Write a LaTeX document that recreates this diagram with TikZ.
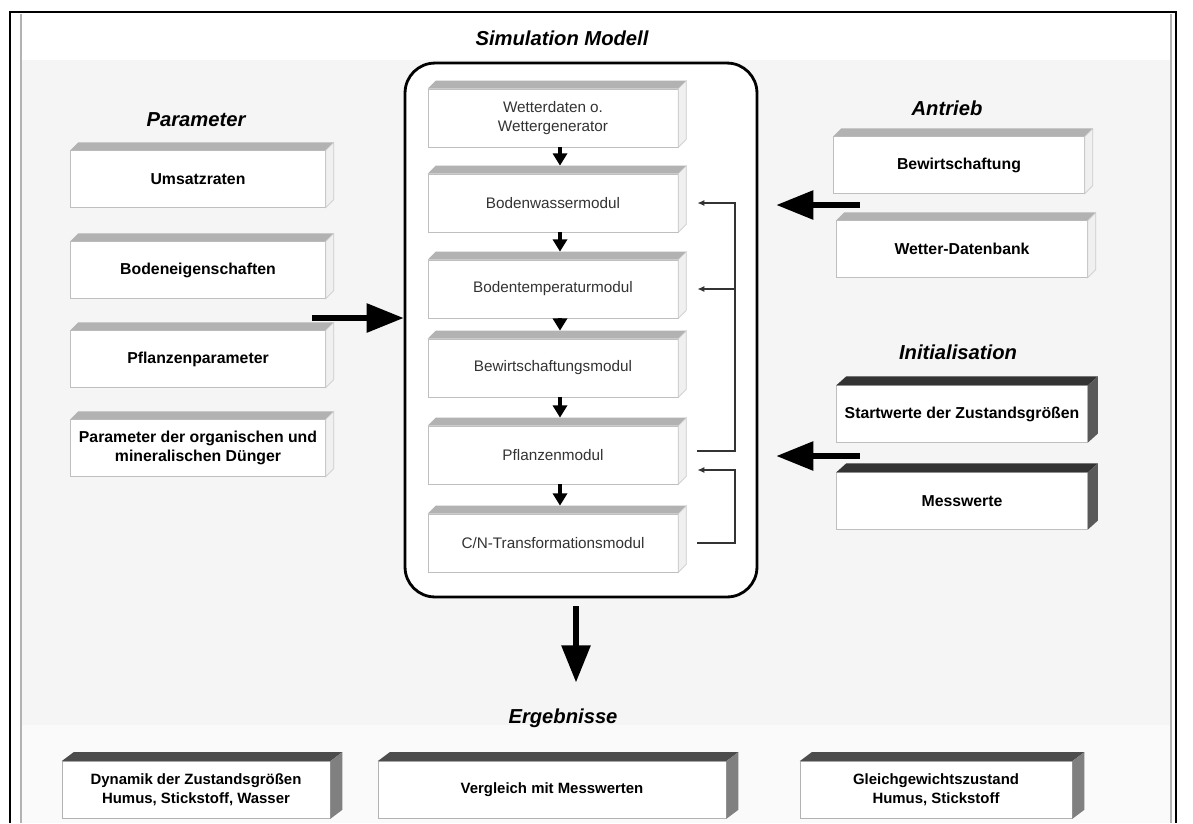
\documentclass[tikz,border=0pt]{standalone}
\usepackage{fontspec}
\setmainfont{Liberation Sans}
\usetikzlibrary{arrows.meta}

\tikzset{
  head/.style={font=\fontsize{11.5}{13}\selectfont\bfseries\itshape},
  para/.style={draw=gray!50, fill=white, minimum width=5.1cm, minimum height=1.13cm,
    align=center, inner sep=1pt, font=\fontsize{9}{11}\selectfont\bfseries},
  antr/.style={para, minimum width=5.02cm},
  modul/.style={draw=gray!50, fill=white, minimum width=5cm, minimum height=1.16cm,
    align=center, text=black!80, font=\fontsize{8.7}{11}\selectfont},
  erg/.style={draw=gray!60, fill=white, minimum height=1.14cm, align=center,
    inner sep=1pt, font=\fontsize{8.5}{11}\selectfont\bfseries},
  big/.style={line width=3pt, -{Triangle[length=21pt,width=16pt]}},
  small/.style={line width=2.2pt, -{Triangle[length=7pt,width=8pt]}},
  back/.style={line width=1.1pt, draw=black!80, -{Latex[length=4pt,width=3.5pt]}}
}

\begin{document}
\begin{tikzpicture}[x=0.02cm,y=-0.02cm]
\useasboundingbox (0,0) rectangle (1193,823);

% Hintergrund und Rahmen
\fill[black!4] (22,60) rectangle (1171,725);
\fill[black!2] (22,725) rectangle (1171,823);
\draw[line width=1.5pt] (10,823) -- (10,12) -- (1176,12) -- (1176,823);
\draw[gray!60, line width=1.5pt] (21,823) -- (21,14);
\draw[gray!60, line width=1.5pt] (1171,823) -- (1171,14);

% Ueberschriften
\node[head] (tsim) at (562,38) {Simulation Modell};
\node[head] (tpar) at (196,120) {Parameter};
\node[head] (tant) at (947,108) {Antrieb};
\node[head] (tini) at (958,352) {Initialisation};
\node[head] (terg) at (563,718) {Ergebnisse};

% Simulationsmodell
\node[draw, fill=white, line width=1.6pt, rounded corners=17pt,
  minimum width=7.04cm, minimum height=10.68cm] (model) at (581,330) {};
\node[modul] (wd) at (553,118) {Wetterdaten o.\\Wettergenerator};
\node[modul] (bw) at (553,203) {Bodenwassermodul};
\node[modul] (bt) at (553,289) {Bodentemperaturmodul};
\node[modul] (bm) at (553,368) {Bewirtschaftungsmodul};
\node[modul] (pm) at (553,455) {Pflanzenmodul};
\node[modul] (cn) at (553,543) {C/N-Transformationsmodul};

% Parameter
\node[para] (um) at (198,179) {Umsatzraten};
\node[para] (be) at (198,270) {Bodeneigenschaften};
\node[para] (pf) at (198,359) {Pflanzenparameter};
\node[para] (du) at (198,448) {Parameter der organischen und\\mineralischen Dünger};

% Antrieb und Initialisation
\node[antr] (bew) at (959,165) {Bewirtschaftung};
\node[antr] (wdb) at (962,249) {Wetter-Datenbank};
\node[antr] (sw) at (962,414) {Startwerte der Zustandsgrößen};
\node[antr] (mw) at (962,501) {Messwerte};

% Ergebnisse
\node[erg, minimum width=5.36cm] (dy) at (196,790) {Dynamik der Zustandsgrößen\\Humus, Stickstoff, Wasser};
\node[erg, minimum width=6.96cm] (ve) at (552,790) {Vergleich mit Messwerten};
\node[erg, minimum width=5.44cm] (gg) at (936,790) {Gleichgewichtszustand\\Humus, Stickstoff};

% 3D-Flaechen
\foreach \n in {um,be,pf,du,wd,bw,bt,bm,pm,cn,bew,wdb} {
  \fill[gray!60] (\n.north west) -- ++(8,-8) -- ([shift={(8,-8)}]\n.north east) -- (\n.north east) -- cycle;
  \filldraw[fill=gray!12, draw=gray!40] (\n.north east) -- ++(8,-8) -- ([shift={(8,-8)}]\n.south east) -- (\n.south east) -- cycle;
}
\foreach \n in {sw,mw} {
  \fill[black!80] (\n.north west) -- ++(10,-9) -- ([shift={(10,-9)}]\n.north east) -- (\n.north east) -- cycle;
  \fill[black!65] (\n.north east) -- ++(10,-9) -- ([shift={(10,-9)}]\n.south east) -- (\n.south east) -- cycle;
}
\foreach \n in {dy,ve,gg} {
  \fill[black!70] (\n.north west) -- ++(12,-9) -- ([shift={(12,-9)}]\n.north east) -- (\n.north east) -- cycle;
  \fill[black!50] (\n.north east) -- ++(12,-9) -- ([shift={(12,-9)}]\n.south east) -- (\n.south east) -- cycle;
}

% Pfeile im Modell
\foreach \a/\b in {wd/bw, bw/bt, bt/bm, bm/pm, pm/cn}
  \draw[small] ([shift={(7,0)}]\a.south) -- ([shift={(7,-8)}]\b.north);

% Rueckkopplungen
\draw[back] ([shift={(19,-4)}]pm.east) -| ([shift={(57,0)}]bw.east) -- ([shift={(19,0)}]bw.east);
\draw[back] ([shift={(57,0)}]bt.east) -- ([shift={(19,0)}]bt.east);
\draw[back] ([shift={(19,0)}]cn.east) -| ([shift={(57,15)}]pm.east) -- ([shift={(19,15)}]pm.east);

% grosse Pfeile
\coordinate (parout) at (312,318);
\coordinate (antout) at (860,205);
\coordinate (iniout) at (860,456);
\draw[big] (parout) -- (parout -| model.west);
\draw[big, shorten >=0.36cm] (antout) -- (antout -| model.east);
\draw[big, shorten >=0.36cm] (iniout) -- (iniout -| model.east);
\draw[big] (model.south) ++(-5,8) -- ++(0,76);

\end{tikzpicture}
\end{document}
